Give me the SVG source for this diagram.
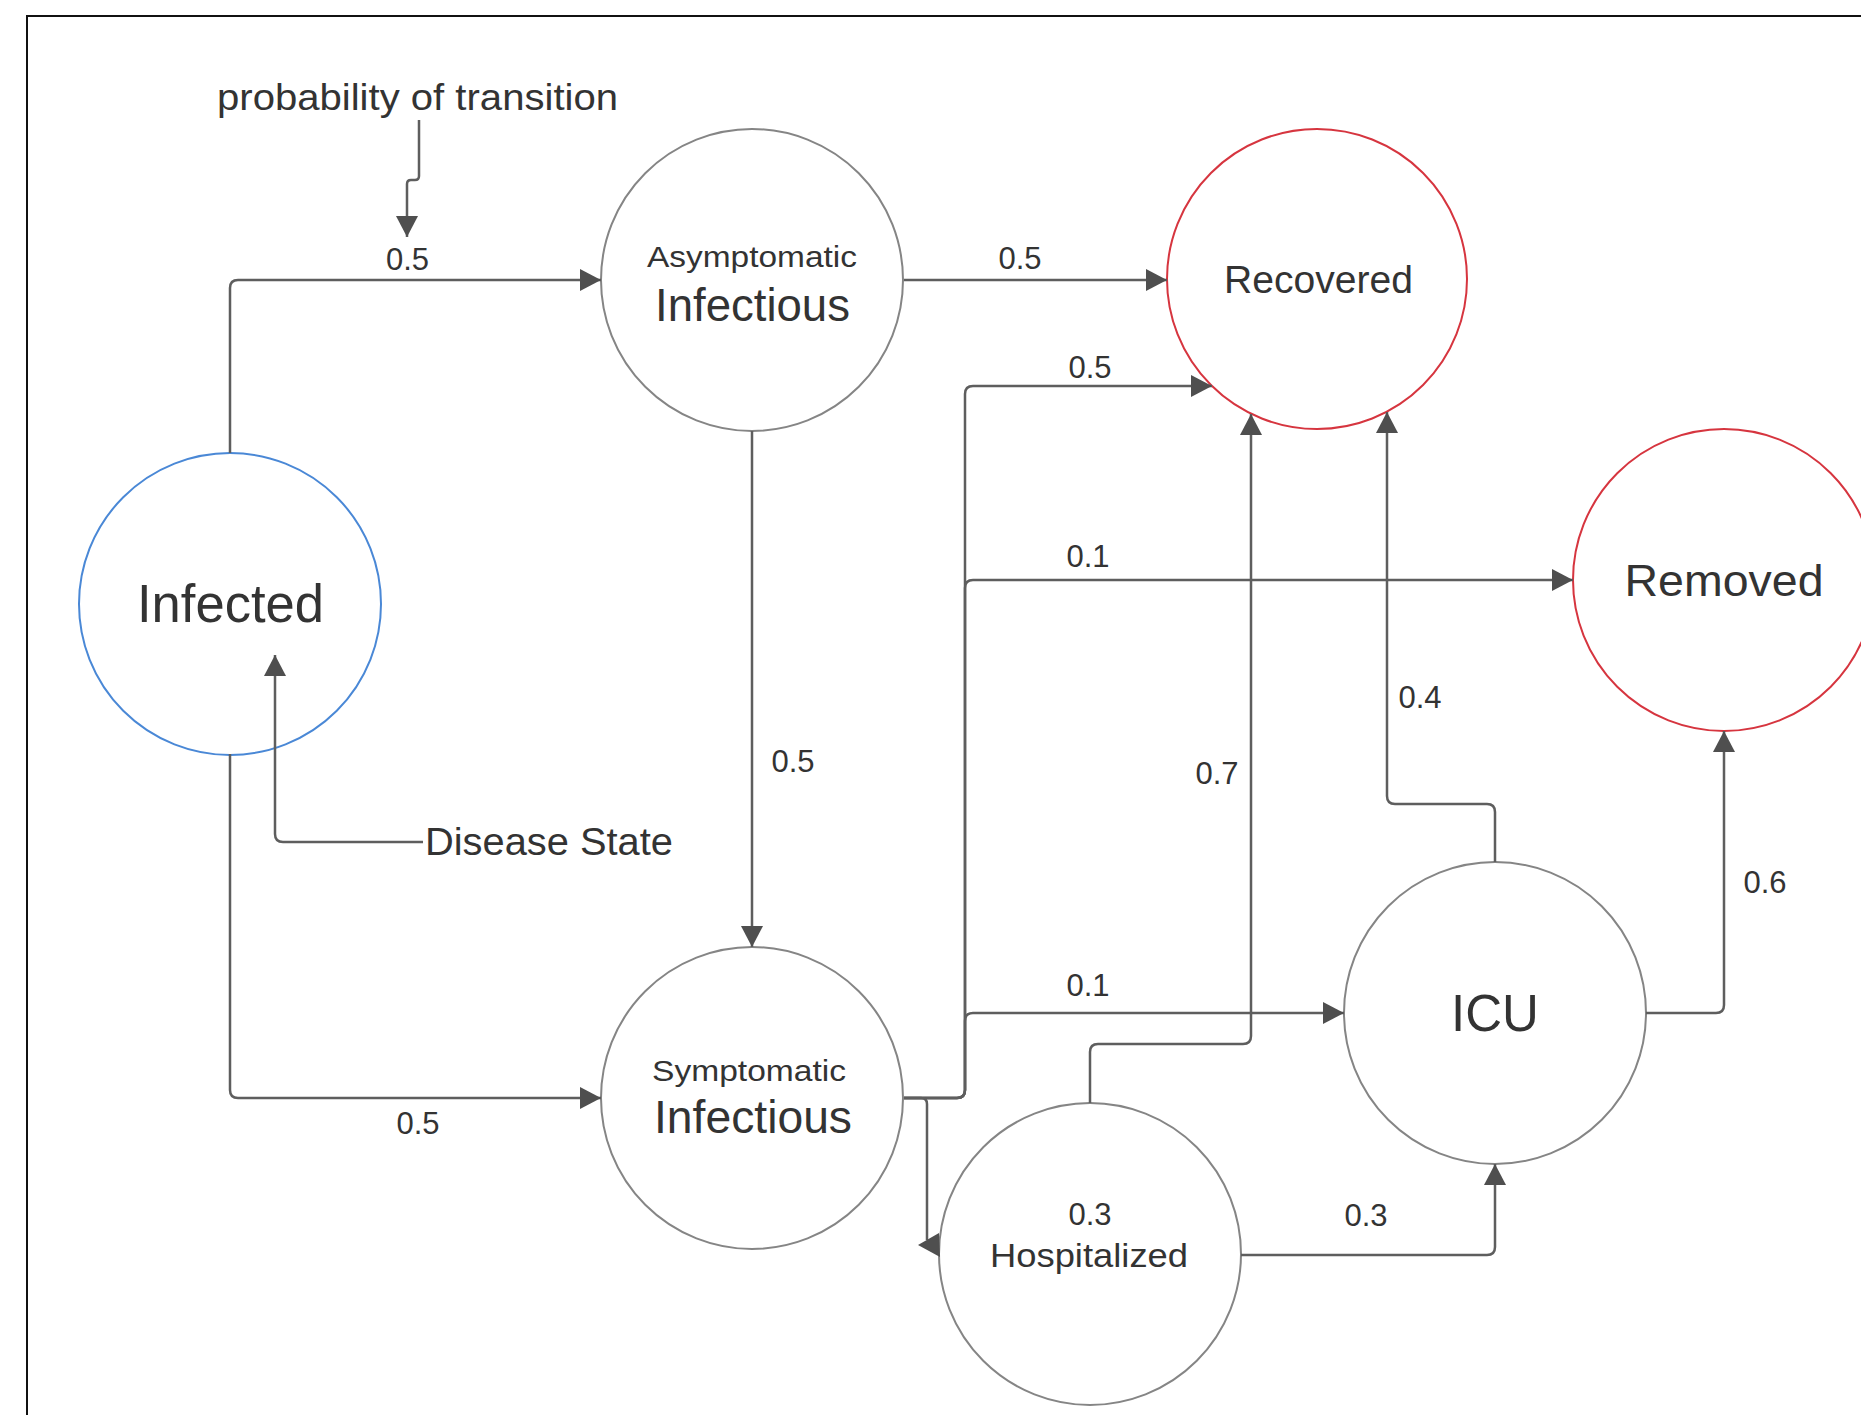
<svg xmlns="http://www.w3.org/2000/svg" width="1861" height="1415" viewBox="0 0 1861 1415">
<style>
.node{fill:#ffffff;stroke-width:2}
.gray{stroke:#858585}
.blue{stroke:#4a88d6}
.red{stroke:#d6353f}
.t{font-family:"Liberation Sans",Arial,sans-serif;fill:#333333;text-anchor:middle}
.lbl{font-family:"Liberation Sans",Arial,sans-serif;fill:#333333;text-anchor:middle;font-size:31px}
.conn{fill:none;stroke:#5e5e5e;stroke-width:2.5}
</style>
<defs>
<marker id="arr" markerUnits="userSpaceOnUse" markerWidth="22" markerHeight="22" refX="21" refY="11" orient="auto" viewBox="0 0 22 22">
<path d="M0,0 L21,11 L0,22 z" fill="#4f4f4f"/>
</marker>
</defs>
<rect x="27" y="16" width="1900" height="1500" fill="#ffffff" stroke="#111111" stroke-width="2"/>
<g id="infected">
<circle class="node blue" cx="230" cy="604" r="151"/>
<text class="t" x="230.5" y="622" font-size="53" textLength="187" lengthAdjust="spacingAndGlyphs">Infected</text>
</g>
<g id="asymptomatic">
<circle class="node gray" cx="752" cy="280" r="151"/>
<text class="t" x="752" y="267" font-size="29" textLength="210" lengthAdjust="spacingAndGlyphs">Asymptomatic</text>
<text class="t" x="752.5" y="321" font-size="46" textLength="195" lengthAdjust="spacingAndGlyphs">Infectious</text>
</g>
<g id="recovered">
<circle class="node red" cx="1317" cy="279" r="150"/>
<text class="t" x="1318.5" y="293" font-size="38.5" textLength="189" lengthAdjust="spacingAndGlyphs">Recovered</text>
</g>
<g id="removed">
<circle class="node red" cx="1724" cy="580" r="151"/>
<text class="t" x="1724" y="596" font-size="44" textLength="199" lengthAdjust="spacingAndGlyphs">Removed</text>
</g>
<g id="symptomatic">
<circle class="node gray" cx="752" cy="1098" r="151"/>
<text class="t" x="749" y="1081" font-size="29" textLength="194" lengthAdjust="spacingAndGlyphs">Symptomatic</text>
<text class="t" x="753" y="1133" font-size="46" textLength="198" lengthAdjust="spacingAndGlyphs">Infectious</text>
</g>
<g id="hospitalized">
<circle class="node gray" cx="1090" cy="1254" r="151"/>
<text class="t" x="1090" y="1225" font-size="31">0.3</text>
<text class="t" x="1089" y="1267" font-size="34" textLength="198" lengthAdjust="spacingAndGlyphs">Hospitalized</text>
</g>
<g id="icu">
<circle class="node gray" cx="1495" cy="1013" r="151"/>
<text class="t" x="1495" y="1031" font-size="51">ICU</text>
</g>
<g id="connectors">
<path class="conn" d="M230,453 V288 Q230,280 238,280 H601" marker-end="url(#arr)"/>
<path class="conn" d="M419,120 V176 Q419,180 415,180 H411 Q407,180 407,184 V237" marker-end="url(#arr)"/>
<path class="conn" d="M904,280 H1167" marker-end="url(#arr)"/>
<path class="conn" d="M752,431 V947" marker-end="url(#arr)"/>
<path class="conn" d="M230,754 V1090 Q230,1098 238,1098 H601" marker-end="url(#arr)"/>
<path class="conn" d="M423,842 H283 Q275,842 275,834 V655" marker-end="url(#arr)"/>
<path class="conn" d="M904,1098 H957 Q965,1098 965,1090 V394 Q965,386 973,386 H1212" marker-end="url(#arr)"/>
<path class="conn" d="M904,1098 H957 Q965,1098 965,1090 V588 Q965,580 973,580 H1573" marker-end="url(#arr)"/>
<path class="conn" d="M904,1098 H957 Q965,1098 965,1090 V1021 Q965,1013 973,1013 H1344" marker-end="url(#arr)"/>
<path class="conn" d="M904,1098 H921 Q927,1098 927,1104 V1240"/>
<polygon points="918,1245 939,1233 940,1257" fill="#4f4f4f"/>
<path class="conn" d="M1090,1103 V1052 Q1090,1044 1098,1044 H1243 Q1251,1044 1251,1036 V414" marker-end="url(#arr)"/>
<path class="conn" d="M1495,862 V812 Q1495,804 1487,804 H1395 Q1387,804 1387,796 V412" marker-end="url(#arr)"/>
<path class="conn" d="M1646,1013 H1716 Q1724,1013 1724,1005 V731" marker-end="url(#arr)"/>
<path class="conn" d="M1241,1255 H1487 Q1495,1255 1495,1247 V1164" marker-end="url(#arr)"/>
</g>
<g id="labels">
<text class="t" x="417.5" y="110" font-size="37" textLength="401" lengthAdjust="spacingAndGlyphs">probability of transition</text>
<text class="t" x="549" y="855" font-size="38" textLength="248" lengthAdjust="spacingAndGlyphs">Disease State</text>
<text class="lbl" x="407.5" y="270">0.5</text>
<text class="lbl" x="1020" y="269">0.5</text>
<text class="lbl" x="1090" y="378">0.5</text>
<text class="lbl" x="793" y="772">0.5</text>
<text class="lbl" x="418" y="1134">0.5</text>
<text class="lbl" x="1088" y="567">0.1</text>
<text class="lbl" x="1088" y="996">0.1</text>
<text class="lbl" x="1217" y="784">0.7</text>
<text class="lbl" x="1420" y="708">0.4</text>
<text class="lbl" x="1765" y="893">0.6</text>
<text class="lbl" x="1366" y="1226">0.3</text>
</g>
</svg>
